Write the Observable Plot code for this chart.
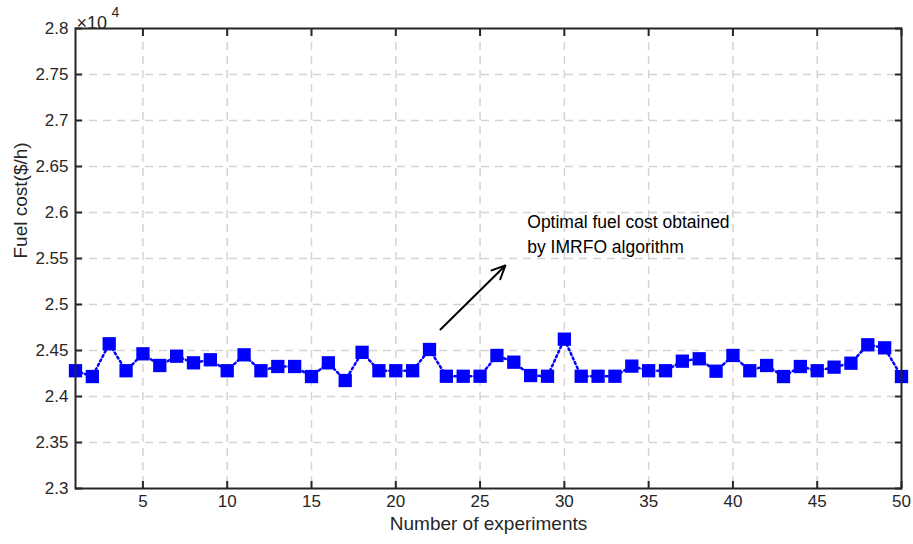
<!DOCTYPE html>
<html>
<head>
<meta charset="utf-8">
<script src="https://cdn.jsdelivr.net/npm/d3@7"></script>
<script src="https://cdn.jsdelivr.net/npm/@observablehq/plot@0.6"></script>
<style>
  html, body { margin: 0; padding: 0; background: #fff; }
  #chart { width: 913px; height: 544px; }
  svg { font-family: "Liberation Sans", Arial, Helvetica, sans-serif; }
</style>
</head>
<body>
<div id="chart"></div>
<script>
// ---- Data ----
const experiments = [1,2,3,4,5,6,7,8,9,10,11,12,13,14,15,16,17,18,19,20,21,22,23,24,25,
  26,27,28,29,30,31,32,33,34,35,36,37,38,39,40,41,42,43,44,45,46,47,48,49,50];
const fuelCost = [24280,24217,24573,24280,24464,24337,24438,24366,24399,24280,
  24453,24280,24326,24326,24217,24366,24174,24480,24280,24280,
  24280,24511,24220,24220,24220,24446,24373,24228,24220,24623,
  24220,24220,24220,24330,24280,24280,24384,24410,24275,24446,
  24280,24337,24217,24326,24280,24319,24362,24562,24529,24217];
const xTicks = [5,10,15,20,25,30,35,40,45,50];
const xGridTicks = [5,10,15,20,25,30,35,40,45];
const yTicks = [23000,23500,24000,24500,25000,25500,26000,26500,27000,27500,28000];
const yGridTicks = [23500,24000,24500,25000,25500,26000,26500,27000,27500];
const xDomain = [1, 50];
const yDomain = [23000, 28000];
const xLabel = "Number of experiments";
const yLabel = "Fuel cost($/h)";
const annotationText = ["Optimal fuel cost obtained\nby IMRFO algorithm"];
const annotationPos = [{x: 27.8, y: 25780}];
const arrowData = [{x1: 22.65, y1: 24728, x2: 26.5, y2: 25424}];

const data = experiments.map((e, i) => ({x: e, y: fuelCost[i]}));
const fmtY = d => String(+(d / 1e4).toFixed(2));
const axisColor = "#262626";
const gridStyle = {stroke: "#d4d4d4", strokeOpacity: 1, strokeWidth: 1.5, strokeDasharray: "8,6"};

const chart = Plot.plot({
  width: 913,
  height: 544,
  marginLeft: 75,
  marginRight: 12,
  marginTop: 28,
  marginBottom: 56,
  style: {fontFamily: "'Liberation Sans', Arial, Helvetica, sans-serif", color: axisColor, background: "#fff"},
  x: {domain: xDomain, axis: null},
  y: {domain: yDomain, axis: null},
  marks: [
    Plot.gridX(xGridTicks, gridStyle),
    Plot.gridY(yGridTicks, gridStyle),
    Plot.line(data, {x: "x", y: "y", stroke: "#0000ff", strokeWidth: 2.5, strokeDasharray: "2,3"}),
    Plot.dot(data, {x: "x", y: "y", symbol: "square", fill: "#0000ff", stroke: "none", r: 7.5}),
    Plot.frame({stroke: axisColor, strokeWidth: 2}),
    // inward ticks
    Plot.axisY(yTicks, {anchor: "left", tickSize: 7, insetLeft: 7, tickFormat: () => "", label: null, stroke: axisColor, strokeWidth: 2}),
    Plot.axisY(yTicks, {anchor: "right", tickSize: 7, insetRight: 7, tickFormat: () => "", label: null, stroke: axisColor, strokeWidth: 2}),
    Plot.axisX(xTicks, {anchor: "bottom", tickSize: 7, insetBottom: 7, tickFormat: () => "", label: null, stroke: axisColor, strokeWidth: 2}),
    Plot.axisX(xTicks, {anchor: "top", tickSize: 7, insetTop: 7, tickFormat: () => "", label: null, stroke: axisColor, strokeWidth: 2}),
    // tick labels
    Plot.text(yTicks, {y: d => d, frameAnchor: "left", dx: -7, textAnchor: "end", text: fmtY, fontSize: 17, fill: axisColor}),
    Plot.text(xTicks, {x: d => d, frameAnchor: "bottom", dy: 18, text: d => String(d), fontSize: 17, fill: axisColor}),
    // axis titles
    Plot.text([xLabel], {frameAnchor: "bottom", dy: 41, fontSize: 19, fill: axisColor, text: d => d}),
    Plot.text([yLabel], {frameAnchor: "left", dx: -55, rotate: -90, fontSize: 19, fill: axisColor, text: d => d}),
    // exponent
    Plot.text(["×10"], {frameAnchor: "top-left", dx: 1, dy: -12, textAnchor: "start", fontSize: 18, fill: axisColor, text: d => d}),
    Plot.text(["4"], {frameAnchor: "top-left", dx: 36, dy: -21, textAnchor: "start", fontSize: 14, fill: axisColor, text: d => d}),
    // annotation
    Plot.arrow(arrowData, {x1: "x1", y1: "y1", x2: "x2", y2: "y2", stroke: "#000", strokeWidth: 2, headLength: 11, headAngle: 50}),
    Plot.text(annotationPos, {x: "x", y: "y", text: () => annotationText[0], textAnchor: "start", lineAnchor: "middle", lineHeight: 1.4, fontSize: 17.5, fill: "#000"})
  ]
});
document.getElementById("chart").append(chart);
</script>
</body>
</html>
